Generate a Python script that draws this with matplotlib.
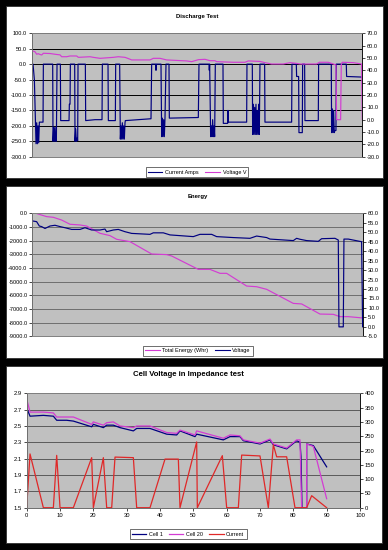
import matplotlib
matplotlib.use('Agg')
import matplotlib.pyplot as plt
from matplotlib.patches import Rectangle
from matplotlib.lines import Line2D
from matplotlib.ticker import FormatStrFormatter

plt.rcParams['font.family'] = ['Liberation Sans', 'DejaVu Sans']

NAVY = '#000080'
MAGENTA = '#d33cd3'
RED = '#e02828'
GREY_BG = '#c0c0c0'

# ---- Discharge Test (sample index, current in A / voltage in V)
cur_x = [0, 2, 4, 8, 13, 15, 17, 19, 21, 23, 34, 35,
         63, 64, 66, 68, 70, 72, 74, 76,
         86, 87, 112, 113, 115, 116,
         129, 130, 132, 134, 136, 138, 139,
         161, 162, 190, 211, 212,
         229, 230, 251, 252,
         264, 266, 268, 270, 272, 274, 276, 278, 280, 281, 320, 358, 360,
         372, 373, 374,
         388, 390, 392, 394, 396, 398, 400, 403,
         412, 413, 460, 500, 502,
         532, 533, 534, 537, 539, 541, 543, 545, 547, 549, 551,
         574, 575, 588, 589, 590, 645, 646,
         662, 663, 665, 667, 669, 671, 673, 675, 677, 679, 681, 683, 685,
         699, 700, 780, 781,
         794, 795, 801, 802, 812, 813,
         819, 820, 860, 861,
         899, 900, 902, 904, 906, 908, 910, 912, 913, 914,
         944, 945, 992]
cur_a = [0, 0, 0, -50, -258, -190, -258, -200, -255, -188, -188, 0,
         0, -250, -205, -250, -205, -250, -250, 0,
         0, -183, -183, -130, -130, 0,
         0, -250, -210, -250, -240, -248, 0,
         0, -183, -180, -180, 0,
         0, -183, -183, 0,
         0, -243, -200, -243, -190, -243, -200, -243, -190, -183, -180, -177, 0,
         0, -20, 0,
         0, -235, -175, -235, -180, -235, -175, 0,
         0, -175, -174, -173, 0,
         0, -20, 0, -235, -200, -235, -180, -235, -200, -235, 0,
         0, -192, -192, -150, -188, -188, 0,
         0, -228, -130, -228, -140, -228, -130, -228, -150, -228, -130, -228, 0,
         0, -188, -188, 0,
         0, -40, -40, -222, -222, 0,
         0, -183, -183, 0,
         0, -222, -145, -222, -150, -222, -215, -215, -215, 0,
         0, -40, -42]

volt_x = [0, 10, 15, 20, 23, 30, 35, 55, 70, 85, 90, 105, 115, 135, 140,
          175, 185, 205, 245, 260, 280, 290, 300, 355, 365, 385, 405, 465,
          480, 500, 520, 535, 550, 555, 605, 640, 650, 685, 700, 720, 755,
          775, 795, 805, 855, 863, 890, 905, 913, 915, 927, 929, 932, 965,
          990, 992]
volt_v = [56, 55, 53, 53.5, 53, 52.4, 53.8, 53.6, 53, 52.5, 51, 51, 51.6,
          51.6, 50.5, 51, 50.5, 49.7, 50.5, 51, 50.5, 49.5, 48.4, 48.4, 49.7,
          49.7, 48.4, 47.6, 47, 48.6, 48.9, 47.8, 47.8, 47, 46.5, 46.5, 47.6,
          47.2, 46.2, 45.1, 45.1, 46.2, 45.6, 45.1, 45.1, 46.5, 46.5, 45.1,
          44.3, 0, 0, 44.9, 46.5, 46.2, 45.1, 0]

# ---- Energy (sample index, Wh / V)
en_x = [11, 43, 63, 88, 113, 143, 163, 203, 233, 253, 293, 358, 403, 418,
        498, 533, 563, 583, 643, 673, 703, 783, 808, 863, 903, 923, 948, 993]
en_wh = [0, -240, -290, -490, -800, -850, -930, -1460, -1630, -1900, -2070,
         -2975, -3020, -3120, -4100, -4100, -4390, -4390, -5320, -5370, -5560,
         -6590, -6630, -7370, -7390, -7560, -7560, -7660]

ev_x = [0, 13, 21, 28, 38, 53, 68, 83, 98, 118, 143, 158, 178, 203, 218, 223,
        243, 258, 278, 298, 353, 363, 393, 413, 483, 503, 538, 553, 603, 653,
        673, 703, 713, 783, 793, 803, 823, 858, 868, 908, 918, 920, 933, 935,
        948, 988, 991, 993]
ev_v = [56, 55.6, 53.3, 53, 52, 53.3, 53.7, 53, 52.4, 51.5, 51.5, 52.4, 51.2,
        51.2, 51.7, 50.3, 51.2, 51.5, 50.3, 49.4, 48.9, 49.7, 49.7, 48.6,
        47.7, 48.9, 48.9, 47.7, 47.2, 46.8, 48, 47.2, 46.4, 45.6, 46.8, 46.3,
        45.6, 45.2, 46.6, 46.8, 45.9, 0, 0, 46.4, 46.4, 45, 0, 0]

# ---- Cell Voltage in Impedance test
cell1_x = [0, 1, 5, 8, 9, 12, 14, 19.5, 20, 23, 24, 26, 28, 32, 33, 37, 42,
           45, 46, 50.5, 51, 59, 61, 64, 65, 70, 73, 74, 78, 81, 82, 82.3,
           82.6, 84, 84, 86, 90]
cell1_v = [2.72, 2.62, 2.63, 2.62, 2.57, 2.57, 2.56, 2.49, 2.52, 2.48, 2.51,
           2.51, 2.48, 2.44, 2.47, 2.47, 2.40, 2.39, 2.44, 2.37, 2.40, 2.33,
           2.37, 2.37, 2.32, 2.28, 2.33, 2.27, 2.22, 2.32, 2.30, 2.12, 1.5,
           1.5, 2.28, 2.26, 2.0]
cell20_x = [0, 1, 5, 8, 9, 14, 19.5, 20, 23, 24, 26, 28, 32, 33, 37, 42, 45,
            46, 50.5, 51, 59, 61, 64, 65, 70, 73, 74, 78, 81, 82, 82.5, 84,
            84, 86, 90]
cell20_v = [2.83, 2.67, 2.67, 2.66, 2.61, 2.61, 2.52, 2.55, 2.51, 2.54, 2.55,
            2.50, 2.48, 2.50, 2.50, 2.42, 2.41, 2.45, 2.39, 2.44, 2.35, 2.39,
            2.38, 2.33, 2.29, 2.34, 2.28, 2.23, 2.33, 2.33, 1.5, 1.5, 2.28,
            2.25, 1.61]
icur_x = [0, 1, 5, 8, 9, 10, 14, 19.5, 20, 23, 24, 25.5, 26.5, 32, 33, 37,
          41.5, 45.5, 46, 51, 51.2, 58.7, 60, 63.5, 64.5, 70, 72.5, 74, 75,
          78, 80.5, 84, 85.5, 90]
icur_a = [0, 188, 0, 0, 183, 0, 0, 175, 0, 175, 0, 0, 177, 175, 0, 0, 170,
          170, 0, 230, 0, 182, 0, 0, 184, 181, 0, 220, 178, 178, 0, 0, 42, 0]


fig = plt.figure(figsize=(3.88, 5.5), dpi=100, facecolor='black')


def panel(bottom, height, width=0.972):
    fig.patches.append(Rectangle((0.0155, bottom), width, height,
                                 transform=fig.transFigure, facecolor='white',
                                 edgecolor='#303030', lw=0.6, zorder=-5))


def style(ax, ax2, gridcol, fs):
    ax.set_facecolor(GREY_BG)
    ax2.set_facecolor('none')
    for a in (ax, ax2):
        a.tick_params(labelsize=fs, length=2, width=0.5, pad=1.5,
                      direction='out', colors='black')
        for s in a.spines.values():
            s.set_color('#808080')
            s.set_linewidth(0.6)
    ax.spines['left'].set_color('black')
    ax2.spines['right'].set_color('black')
    ax.yaxis.grid(True, color=gridcol, lw=0.7)
    ax.set_axisbelow(True)


def legend(handles, labels, pos, fs):
    lg = fig.legend(handles, labels, loc='center', bbox_to_anchor=pos,
                    ncol=len(labels), fontsize=fs, frameon=True, fancybox=False,
                    edgecolor='black', handlelength=2.6, borderpad=0.4,
                    columnspacing=1.2, handletextpad=0.5)
    lg.get_frame().set_linewidth(0.5)
    lg.set_zorder(5)


# Panel 1
panel(0.676, 0.3127)
ax1 = fig.add_axes([0.0817, 0.7151, 0.852, 0.2244])
ax1b = ax1.twinx()
style(ax1, ax1b, 'black', 4.1)
ax1.plot(cur_x, cur_a, color=NAVY, lw=0.85)
ax1b.plot(volt_x, volt_v, color=MAGENTA, lw=0.85)
ax1.set_xlim(0, 992)
ax1.set_ylim(-300, 100)
ax1.set_yticks(range(-300, 101, 50))
ax1b.set_ylim(-30, 70)
ax1b.set_yticks(range(-30, 71, 10))
ax1.yaxis.set_major_formatter(FormatStrFormatter('%.1f'))
ax1b.yaxis.set_major_formatter(FormatStrFormatter('%.1f'))
ax1.set_xticks([])
fig.text(0.508, 0.970, 'Discharge Test', ha='center', va='center',
         fontsize=4.3, fontweight='bold')
legend([Line2D([], [], color=NAVY, lw=0.8), Line2D([], [], color=MAGENTA, lw=0.8)],
       ['Current Amps', 'Voltage V'], (0.508, 0.687), 4.0)

# Panel 2
panel(0.349, 0.3127)
ax2 = fig.add_axes([0.0833, 0.3885, 0.853, 0.2236])
ax2b = ax2.twinx()
style(ax2, ax2b, '#6e6e6e', 4.1)
ax2.plot(en_x, en_wh, color=MAGENTA, lw=0.85)
ax2b.plot(ev_x, ev_v, color=NAVY, lw=0.85)
ax2.set_xlim(0, 993)
ax2.set_ylim(-9000, 0)
ax2.set_yticks(range(-9000, 1, 1000))
ax2b.set_ylim(-5, 60)
ax2b.set_yticks(range(-5, 61, 5))
ax2.yaxis.set_major_formatter(FormatStrFormatter('%.1f'))
ax2b.yaxis.set_major_formatter(FormatStrFormatter('%.1f'))
ax2.set_xticks([])
fig.text(0.51, 0.643, 'Energy', ha='center', va='center',
         fontsize=4.3, fontweight='bold')
legend([Line2D([], [], color=MAGENTA, lw=0.8), Line2D([], [], color=NAVY, lw=0.8)],
       ['Total Energy (Whr)', 'Voltage'], (0.51, 0.362), 4.0)

# Panel 3
panel(0.0127, 0.322, width=0.969)
ax3 = fig.add_axes([0.0688, 0.0769, 0.859, 0.208])
ax3b = ax3.twinx()
style(ax3, ax3b, '#5a5a5a', 4.2)
ax3.spines['bottom'].set_color('black')
ax3.plot(cell1_x, cell1_v, color=NAVY, lw=0.9)
ax3.plot(cell20_x, cell20_v, color=MAGENTA, lw=0.9)
ax3b.plot(icur_x, icur_a, color=RED, lw=0.9)
ax3.set_xlim(0, 100)
ax3.set_xticks(range(0, 101, 10))
ax3.set_ylim(1.5, 2.9)
ax3.set_yticks([1.5, 1.7, 1.9, 2.1, 2.3, 2.5, 2.7, 2.9])
ax3.yaxis.set_major_formatter(FormatStrFormatter('%.1f'))
ax3b.set_ylim(0, 400)
ax3b.set_yticks(range(0, 401, 50))
fig.text(0.485, 0.32, 'Cell Voltage in Impedance test', ha='center', va='center',
         fontsize=5.6, fontweight='bold')
legend([Line2D([], [], color=NAVY, lw=0.9), Line2D([], [], color=MAGENTA, lw=0.9),
        Line2D([], [], color=RED, lw=0.9)],
       ['Cell 1', 'Cell 20', 'Current'], (0.485, 0.029), 3.9)

fig.savefig('out.png', dpi=100, facecolor='black')
